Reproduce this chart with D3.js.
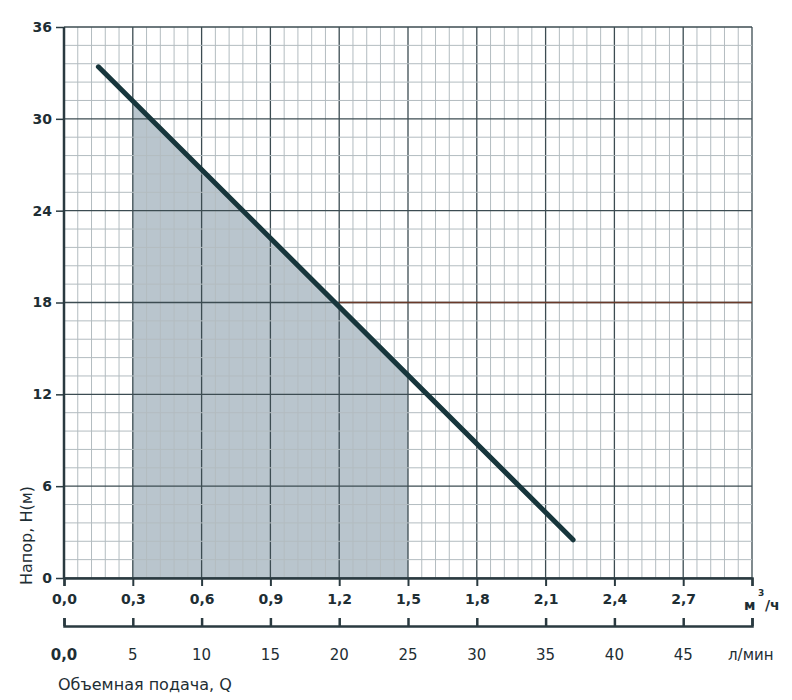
<!DOCTYPE html><html><head><meta charset="utf-8"><script src="https://cdn.jsdelivr.net/npm/d3@7"></script>
<style>body{margin:0;background:#fff}text{font-family:"DejaVu Sans",sans-serif;fill:#1e2e34}</style></head><body><svg id="c" width="792" height="700"></svg><script>
const curveQ=[0.15,2.22], curveH=[33.4,2.5];
const shadeRange=[0.3,1.5];
const yTicks=[0,6,12,18,24,30,36];
const m3Ticks=[0,0.3,0.6,0.9,1.2,1.5,1.8,2.1,2.4,2.7];
const lminTicks=[0,5,10,15,20,25,30,35,40,45];
const refH=18, refFrom=1.2;
const svg=d3.select("#c");
const x=d3.scaleLinear().domain([0,3]).range([64,752]);
const y=d3.scaleLinear().domain([0,36]).range([578,27]);
const xl=d3.scaleLinear().domain([0,50]).range([64,752]);
const hAt=q=>curveH[0]+(q-curveQ[0])*(curveH[1]-curveH[0])/(curveQ[1]-curveQ[0]);
svg.append("path").attr("fill","#b9c5cd").attr("d",d3.area().x(d=>x(d)).y0(y(0)).y1(d=>y(hAt(d)))([shadeRange[0],shadeRange[1]]));
const g=svg.append("g");
d3.range(0,51).forEach(i=>{const v=i*0.06;g.append("line").attr("x1",x(v)).attr("x2",x(v)).attr("y1",y(0)).attr("y2",y(36)).attr("stroke",i%5?"#b3bcc0":"#3c4c52").attr("stroke-width",i%5?1:1.3);});
d3.range(0,31).forEach(i=>{const v=i*1.2;g.append("line").attr("y1",y(v)).attr("y2",y(v)).attr("x1",x(0)).attr("x2",x(3)).attr("stroke",i%5?"#b3bcc0":"#3c4c52").attr("stroke-width",i%5?1:1.3);});
svg.append("line").attr("x1",x(refFrom)).attr("x2",x(3)).attr("y1",y(refH)).attr("y2",y(refH)).attr("stroke","#6a3a2a").attr("stroke-width",1.3);
svg.append("line").attr("x1",x(0)).attr("x2",x(0)).attr("y1",y(0)).attr("y2",y(36)).attr("stroke","#2a3a40").attr("stroke-width",2.5);
const ya=svg.append("g").attr("transform",`translate(${x(0)},0)`).call(d3.axisLeft(y).tickValues(yTicks).tickSize(8).tickPadding(4).tickFormat(d3.format("d")));
ya.select(".domain").remove();ya.selectAll("line").attr("stroke","#2a3a40").attr("stroke-width",1.5);
ya.selectAll("text").attr("font-size",14).attr("font-weight","bold").style("fill","#1e2e34");
const xa=svg.append("g").attr("transform",`translate(0,${y(0)})`).call(d3.axisBottom(x).tickValues(m3Ticks.concat([3])).tickSize(8).tickPadding(8).tickFormat(d=>d===3?"":d3.format(".1f")(d).replace(".",",")));
xa.select(".domain").attr("stroke","#2a3a40").attr("stroke-width",2.5);xa.selectAll("line").attr("stroke","#2a3a40").attr("stroke-width",2);
xa.selectAll("text").attr("font-size",14).attr("font-weight","bold").style("fill","#1e2e34");
const la=svg.append("g").attr("transform",`translate(0,626)`).call(d3.axisTop(xl).tickValues(lminTicks.concat([50])).tickSize(8).tickSizeOuter(8));
la.select(".domain").attr("stroke","#2a3a40").attr("stroke-width",2.5);la.selectAll("line").attr("stroke","#2a3a40").attr("stroke-width",2.5);la.selectAll("text").remove();
lminTicks.forEach(v=>svg.append("text").attr("x",xl(v)).attr("y",660).attr("text-anchor","middle").attr("font-size",15).attr("font-weight",v===0?"bold":"normal").text(v===0?"0,0":v));
svg.append("text").attr("x",728).attr("y",660).attr("font-size",15).text("л/мин");
svg.append("text").attr("x",744).attr("y",610).attr("font-size",14).attr("font-weight","bold").text("м");
svg.append("text").attr("x",758).attr("y",596).attr("font-size",9).attr("font-weight","bold").text("3");
svg.append("text").attr("x",765).attr("y",610).attr("font-size",14).attr("font-weight","bold").text("/ч");
svg.append("text").attr("x",58).attr("y",690).attr("font-size",16).text("Объемная подача, Q");
svg.append("text").attr("transform","translate(32,585) rotate(-90)").attr("font-size",16).text("Напор, H(м)");
svg.append("path").attr("fill","none").attr("stroke","#17363c").attr("stroke-width",5).attr("stroke-linecap","round")
 .attr("d",d3.line().x(d=>x(d)).y((d,i)=>y(curveH[i]))(curveQ));
</script></body></html>
